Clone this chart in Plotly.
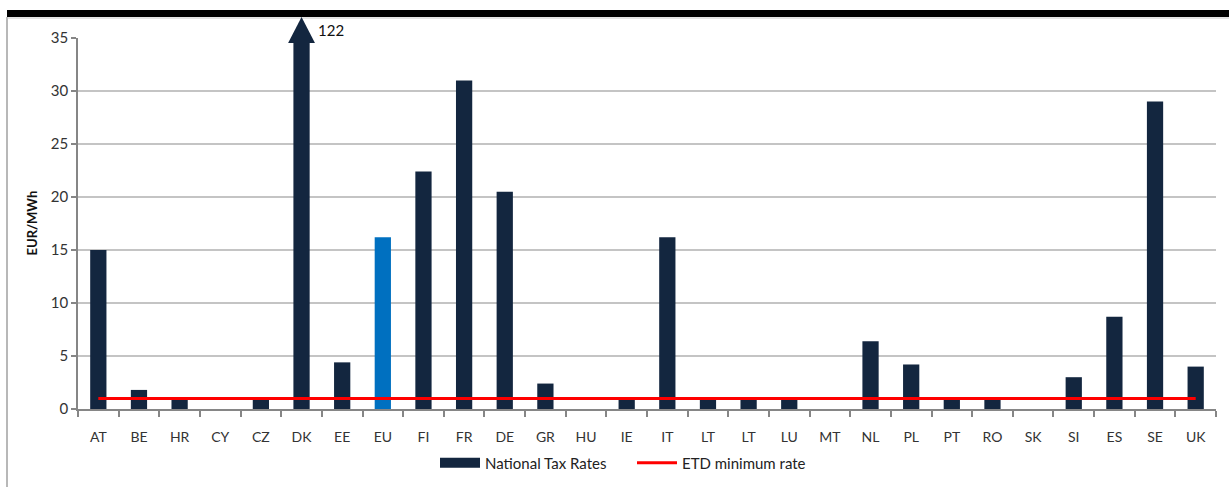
import plotly.graph_objects as go

countries = ["AT", "BE", "HR", "CY", "CZ", "DK", "EE", "EU", "FI", "FR", "DE", "GR", "HU", "IE",
             "IT", "LT", "LT", "LU", "MT", "NL", "PL", "PT", "RO", "SK", "SI", "ES", "SE", "UK"]
national_tax = [15.0, 1.8, 1.0, 0.0, 1.0, 122.0, 4.4, 16.2, 22.4, 31.0, 20.5, 2.4, 0.0, 1.0,
                16.2, 1.0, 1.0, 1.0, 0.0, 6.4, 4.2, 1.1, 1.0, 0.0, 3.0, 8.7, 29.0, 4.0]
etd_min = [1.0] * len(countries)
y_max = 35

NAVY = "#13263F"
EU_BLUE = "#0070C0"
FONT = "Lato, 'Open Sans', sans-serif"

x = list(range(len(countries)))
bar_colors = [EU_BLUE if c == "EU" else NAVY for c in countries]

L, R, T, B = 78, 13, 38, 78
W, H = 1229, 487
pw, ph = W - L - R, H - T - B

def px(xpix):
    return (xpix - L) / pw

def py(ypix):
    return (H - B - ypix) / ph

fig = go.Figure()
fig.add_trace(go.Bar(
    x=x, y=national_tax, name="National Tax Rates",
    marker=dict(color=bar_colors, line=dict(width=0)),
    showlegend=False,
))
# legend proxy for bars (wide navy swatch)
fig.add_trace(go.Scatter(x=[None], y=[None], mode="lines", name="National Tax Rates",
                         line=dict(color=NAVY, width=10), showlegend=True))
fig.add_trace(go.Scatter(
    x=x, y=etd_min, mode="lines", name="ETD minimum rate",
    line=dict(color="#FF0000", width=3),
))

shapes = [
    dict(type="rect", xref="paper", yref="paper", x0=px(7), x1=px(1229),
         y0=py(17), y1=py(10), fillcolor="black", line=dict(width=0), layer="above"),
    dict(type="line", xref="paper", yref="paper", x0=px(7), x1=px(7),
         y0=py(17), y1=py(487), line=dict(color="#A0A0A0", width=1.5)),
    dict(type="line", xref="paper", yref="paper", x0=px(7), x1=px(1229),
         y0=py(18), y1=py(18), line=dict(color="#C8C8C8", width=1)),
]
annotations = [
    dict(xref="paper", yref="paper", x=px(31), y=0.5, text="<b>EUR/MWh</b>",
         textangle=-90, showarrow=False, xanchor="center", yanchor="middle",
         font=dict(family=FONT, size=13, color="#111")),
]

# arrow heads for bars exceeding the axis range
half = 0.33
for i, v in enumerate(national_tax):
    if v > y_max:
        shapes.append(dict(
            type="path", xref="x", yref="paper",
            path=f"M {i - half},{py(43)} L {i + half},{py(43)} L {i},{py(17)} Z",
            fillcolor=NAVY, line=dict(width=0), layer="above"))
        annotations.append(dict(
            x=i, y=py(30), xref="x", yref="paper", text=f"{v:g}",
            showarrow=False, xanchor="left", yanchor="middle", xshift=14,
            font=dict(family=FONT, size=15, color="#111")))

fig.update_layout(
    width=W, height=H,
    margin=dict(l=L, r=R, t=T, b=B, autoexpand=False),
    paper_bgcolor="white", plot_bgcolor="white",
    font=dict(family=FONT, size=14, color="#333333"),
    bargap=0.6,
    barmode="overlay",
    legend=dict(orientation="h", x=px(435), xanchor="left", y=py(463), yanchor="middle",
                font=dict(family=FONT, size=15, color="#222"), traceorder="normal",
                itemwidth=40, entrywidth=142, entrywidthmode="pixels"),
    shapes=shapes,
    annotations=annotations,
)

fig.update_xaxes(
    range=[-0.5, len(countries) - 0.5],
    tickmode="array", tickvals=x, ticktext=countries,
    ticks="", ticklabelstandoff=14, automargin=False,
    showline=True, linecolor="#868686", linewidth=1.5,
    showgrid=False, zeroline=False,
    minor=dict(tickmode="linear", tick0=-0.5, dtick=1, ticks="outside",
               ticklen=6, tickcolor="#868686", tickwidth=1.5, showgrid=False),
    tickfont=dict(family=FONT, size=14, color="#333"),
    fixedrange=True,
)
fig.update_yaxes(
    range=[0, y_max], dtick=5, tick0=0, automargin=False,
    ticks="outside", ticklen=5, tickcolor="#868686", tickwidth=1.5,
    showline=True, linecolor="#868686", linewidth=1.5,
    showgrid=True, gridcolor="#C4C4C4", gridwidth=1.5, zeroline=False,
    tickfont=dict(family=FONT, size=15, color="#333"),
    fixedrange=True,
)

fig.write_html("out.html", config={"displayModeBar": False},
               post_script="document.body.style.margin='0';")
